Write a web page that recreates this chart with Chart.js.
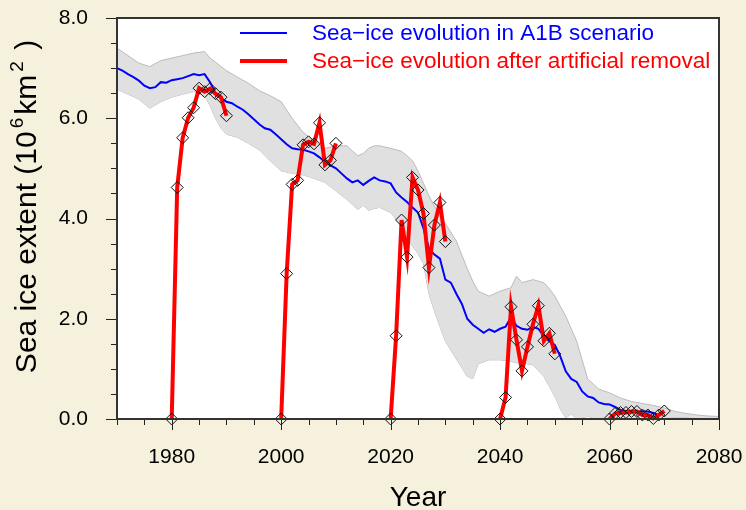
<!DOCTYPE html>
<html>
<head>
<meta charset="utf-8">
<title>Sea ice extent</title>
<script src="https://cdn.jsdelivr.net/npm/chart.js@4.4.1/dist/chart.umd.min.js"></script>
<style>
  html, body { margin: 0; padding: 0; background: #f6f1dd; }
  canvas { display: block; }
</style>
</head>
<body>
<canvas id="iceChart" width="746" height="510"></canvas>
<script>
const FONT = '"Liberation Sans", Arial, Helvetica, sans-serif';

// A1B ensemble mean, one value per year from 1970
const meanStartYear = 1970;
const meanExtent = [
  7.00, 6.95, 6.88, 6.82, 6.75, 6.65, 6.60, 6.62, 6.72, 6.71,
  6.76, 6.78, 6.80, 6.84, 6.88, 6.86, 6.88, 6.72, 6.50, 6.40,
  6.33, 6.30, 6.23, 6.17, 6.08, 5.98, 5.88, 5.80, 5.77, 5.68,
  5.58, 5.48, 5.40, 5.38, 5.37, 5.34, 5.30, 5.22, 5.13, 5.06,
  5.00, 4.90, 4.80, 4.72, 4.76, 4.67, 4.75, 4.82, 4.76, 4.74,
  4.70, 4.52, 4.42, 4.33, 4.22, 4.12, 3.80, 3.40, 3.28, 3.20,
  2.78, 2.72, 2.50, 2.30, 2.00, 1.88, 1.80, 1.72, 1.79, 1.74,
  1.80, 1.84, 2.03, 1.86, 1.80, 1.78, 1.84, 1.80, 1.65, 1.55,
  1.48, 1.25, 0.95, 0.80, 0.74, 0.55, 0.45, 0.42, 0.33, 0.30,
  0.29, 0.24, 0.18, 0.16, 0.15, 0.15, 0.15, 0.15, 0.12, 0.08
];

// spread of the ensemble (grey band)
const bandYears = [
  1970, 1972, 1974, 1976, 1978, 1980, 1982, 1984, 1986, 1987,
  1988, 1989, 1990, 1992, 1994, 1996, 1998, 2000, 2002, 2004,
  2006, 2008, 2010, 2012, 2013, 2014, 2015, 2016, 2017, 2018,
  2020, 2022, 2023, 2024, 2025, 2026, 2027, 2028, 2029, 2030,
  2032, 2034, 2035, 2036, 2038, 2040, 2042, 2043, 2044, 2046,
  2048, 2049, 2050, 2051, 2052, 2053, 2054, 2056, 2058, 2060,
  2062, 2064, 2066, 2068, 2070, 2072, 2074, 2076, 2078, 2080
];
const bandUpper = [
  7.40, 7.25, 7.10, 7.03, 7.15, 7.20, 7.25, 7.30, 7.33, 7.20,
  7.12, 7.03, 6.95, 6.82, 6.70, 6.55, 6.45, 6.33, 6.00, 5.72,
  5.55, 5.40, 5.45, 5.45, 5.35, 5.25, 5.30, 5.40, 5.45, 5.45,
  5.40, 5.34, 5.25, 5.15, 4.95, 4.70, 4.45, 4.25, 4.05, 3.90,
  3.55, 3.00, 2.75, 2.55, 2.45, 2.55, 2.62, 2.85, 2.72, 2.78,
  2.72, 2.60, 2.45, 2.25, 2.05, 1.80, 1.55, 0.80, 0.60, 0.52,
  0.42, 0.35, 0.31, 0.27, 0.22, 0.15, 0.11, 0.08, 0.06, 0.05
];
const bandLower = [
  6.58, 6.48, 6.38, 6.20, 6.33, 6.42, 6.48, 6.53, 6.45, 6.25,
  6.00, 5.80, 5.68, 5.62, 5.50, 5.37, 5.15, 4.95, 4.90, 4.87,
  4.80, 4.72, 4.55, 4.38, 4.28, 4.18, 4.26, 4.16, 4.20, 4.22,
  4.12, 3.85, 3.62, 3.45, 3.30, 3.10, 2.50, 2.15, 1.85, 1.55,
  1.20, 0.85, 0.80, 1.10, 1.18, 1.18, 1.15, 1.12, 1.12, 1.08,
  0.85, 0.65, 0.45, 0.20, 0.02, 0.10, 0.00, 0.05, 0.00, 0.00,
  0.00, 0.00, 0.01, 0.02, 0.02, 0.03, 0.03, 0.02, 0.02, 0.02
];

// recovery after artificial removal, 11 yearly values from each start year
const removalYears = [1980, 2000, 2020, 2040, 2060];
const removalRuns = [
  [0, 4.62, 5.61, 6.01, 6.21, 6.60, 6.53, 6.59, 6.49, 6.42, 6.05],
  [0, 2.90, 4.68, 4.76, 5.47, 5.53, 5.49, 5.91, 5.07, 5.16, 5.50],
  [0, 1.66, 3.97, 3.23, 4.82, 4.57, 4.10, 3.02, 3.87, 4.32, 3.54],
  [0, 0.43, 2.24, 1.58, 0.96, 1.44, 1.89, 2.26, 1.56, 1.71, 1.30],
  [0, 0.11, 0.13, 0.13, 0.15, 0.15, 0.08, 0.08, 0.01, 0.08, 0.16]
];

const xTickLabels = ["1980", "2000", "2020", "2040", "2060", "2080"];
const yTickLabels = ["0.0", "2.0", "4.0", "6.0", "8.0"];
const seriesNames = [
  "Sea\u2212ice evolution in A1B scenario",
  "Sea\u2212ice evolution after artificial removal"
];

const datasets = [
  {
    data: bandYears.map((yr, i) => ({ x: yr, y: bandUpper[i] })),
    borderColor: "#bcbcbc",
    borderWidth: 1,
    backgroundColor: "#e0e0e0",
    pointRadius: 0,
    fill: "+1",
    order: 3
  },
  {
    data: bandYears.map((yr, i) => ({ x: yr, y: bandLower[i] })),
    borderColor: "#bcbcbc",
    borderWidth: 1,
    pointRadius: 0,
    fill: false,
    order: 3
  },
  {
    label: seriesNames[0],
    legend: true,
    data: meanExtent.map((v, i) => ({ x: meanStartYear + i, y: v })),
    borderColor: "#0000ff",
    borderWidth: 2,
    pointRadius: 0,
    fill: false,
    order: 2
  }
];

removalRuns.forEach((run, k) => {
  datasets.push({
    label: seriesNames[1],
    legend: k === 0,
    data: run.map((v, i) => ({ x: removalYears[k] + i, y: v })),
    borderColor: "#ff0000",
    borderWidth: 4,
    pointStyle: "rectRot",
    pointRadius: 6,
    pointBorderColor: "#111",
    pointBorderWidth: 1,
    pointBackgroundColor: "rgba(0,0,0,0)",
    fill: false,
    clip: false,
    order: 1
  });
});

// white plot area on the cream page
const plotBackground = {
  id: "plotBackground",
  beforeDraw(chart) {
    const { ctx, chartArea: a } = chart;
    ctx.save();
    ctx.fillStyle = "#ffffff";
    ctx.fillRect(a.left, a.top, a.right - a.left, a.bottom - a.top);
    ctx.restore();
  }
};

// frame, major/minor tick marks, y title with superscripts, legend
const decorations = {
  id: "decorations",
  afterDraw(chart) {
    const { ctx, chartArea: a, scales: { x, y } } = chart;
    ctx.save();

    ctx.strokeStyle = "#222";
    ctx.lineWidth = 1;
    ctx.beginPath();
    x.ticks.forEach((t) => {
      const px = Math.round(x.getPixelForValue(t.value)) + 0.5;
      const len = xTickLabels.includes(String(t.value)) ? 11 : 6;
      ctx.moveTo(px, a.bottom);
      ctx.lineTo(px, a.bottom + len);
    });
    y.ticks.forEach((t) => {
      const py = Math.round(y.getPixelForValue(t.value)) + 0.5;
      const len = yTickLabels.includes(t.value.toFixed(1)) ? 11 : 6;
      ctx.moveTo(a.left, py);
      ctx.lineTo(a.left - len, py);
    });
    ctx.stroke();

    ctx.lineWidth = 2;
    ctx.strokeStyle = "#333";
    ctx.strokeRect(a.left, a.top, a.right - a.left, a.bottom - a.top);

    // y axis title
    const parts = [
      ["Sea ice extent (10", false],
      ["6", true],
      ["km", false],
      ["2", true],
      [" )", false]
    ];
    const big = "30px " + FONT;
    const small = "19px " + FONT;
    const gap = 3;
    let total = 0;
    parts.forEach(([s, sup]) => {
      ctx.font = sup ? small : big;
      total += ctx.measureText(s).width + (sup ? 2 * gap : 0);
    });
    ctx.translate(28, (a.top + a.bottom) / 2 - 12);
    ctx.rotate(-Math.PI / 2);
    ctx.fillStyle = "#000";
    ctx.textBaseline = "middle";
    let pos = -total / 2;
    parts.forEach(([s, sup]) => {
      ctx.font = sup ? small : big;
      if (sup) pos += gap;
      ctx.fillText(s, pos, sup ? -10 : 0);
      pos += ctx.measureText(s).width + (sup ? gap : 0);
    });
    ctx.setTransform(1, 0, 0, 1, 0, 0);

    // legend inside the plot
    ctx.font = "22.5px " + FONT;
    ctx.textBaseline = "middle";
    chart.data.datasets.filter((d) => d.legend).forEach((d, i) => {
      const ly = 33 + i * 28;
      ctx.strokeStyle = d.borderColor;
      ctx.lineWidth = d.borderWidth;
      ctx.beginPath();
      ctx.moveTo(240, ly);
      ctx.lineTo(287, ly);
      ctx.stroke();
      ctx.fillStyle = d.borderColor;
      ctx.fillText(d.label, 312, ly + 1);
    });

    ctx.restore();
  }
};

new Chart(document.getElementById("iceChart"), {
  type: "line",
  data: { datasets },
  options: {
    responsive: false,
    animation: false,
    layout: { padding: { top: 18, right: 27, left: 0, bottom: 0 } },
    plugins: {
      legend: { display: false },
      tooltip: { enabled: false }
    },
    scales: {
      x: {
        type: "linear",
        min: 1970,
        max: 2080,
        border: { display: false },
        // tick marks are drawn by the decorations plugin; tickLength only spaces the labels
        grid: { drawOnChartArea: false, tickLength: 26, tickColor: "rgba(0,0,0,0)" },
        ticks: {
          stepSize: 5,
          autoSkip: false,
          maxRotation: 0,
          padding: 0,
          color: "#000",
          font: { family: FONT, size: 21 },
          callback: (v) => (xTickLabels.includes(String(v)) ? String(v) : "")
        },
        title: {
          display: true,
          text: "Year",
          color: "#000",
          font: { family: FONT, size: 28 },
          padding: { top: 0, bottom: -5 }
        },
        afterFit: (scale) => { scale.height = 91; }
      },
      y: {
        min: 0,
        max: 8,
        border: { display: false },
        grid: { drawOnChartArea: false, tickLength: 29, tickColor: "rgba(0,0,0,0)" },
        ticks: {
          stepSize: 0.5,
          autoSkip: false,
          padding: 0,
          color: "#000",
          font: { family: FONT, size: 21 },
          callback: (v) => (yTickLabels.includes(v.toFixed(1)) ? v.toFixed(1) : "")
        },
        afterFit: (scale) => { scale.width = 117; }
      }
    }
  },
  plugins: [plotBackground, decorations]
});
</script>
</body>
</html>
